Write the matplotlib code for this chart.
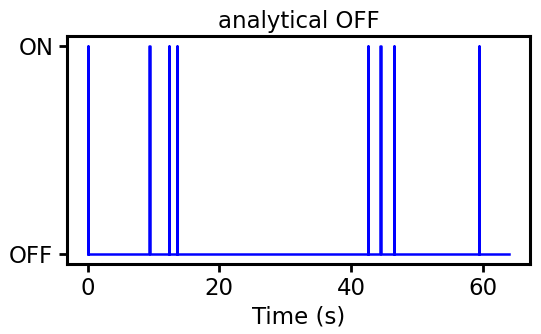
import numpy as np
import matplotlib
matplotlib.use("Agg")
import matplotlib.pyplot as plt

# tiempos de encendido / apagado (s)
on_times = [0.0, 9.3, 12.3, 13.5, 42.5, 44.45, 46.5, 59.5]
off_times = [0.12, 9.42, 12.301, 13.6, 42.501, 44.57, 46.501, 59.501]
t_end = 64.0

# construir la señal escalonada
tiempos = [0.0]
estados = [0]
for t_on, t_off in zip(on_times, off_times):
    tiempos.append(t_on)
    estados.append(1)
    tiempos.append(t_off)
    estados.append(0)
tiempos.append(t_end)
estados.append(0)

plt.rcParams['font.family'] = ['DejaVu Sans']
fig, ax = plt.subplots(figsize=(5.41, 3.34), dpi=100)
fig.subplots_adjust(left=0.123, right=0.98, top=0.892, bottom=0.21)

ax.plot(tiempos, estados, drawstyle='steps-post', color='blue', linewidth=1.8)
ax.set_yticks([0, 1])
ax.set_yticklabels(['OFF', 'ON'])
ax.set_xticks([0, 20, 40, 60])
ax.set_xlabel('Time (s)', fontsize=16.5)
ax.set_title('analytical OFF', fontsize=16.5)
ax.tick_params(labelsize=16.5, width=2, length=6)
for spine in ax.spines.values():
    spine.set_linewidth(2.2)

fig.savefig('out.png', dpi=100)
